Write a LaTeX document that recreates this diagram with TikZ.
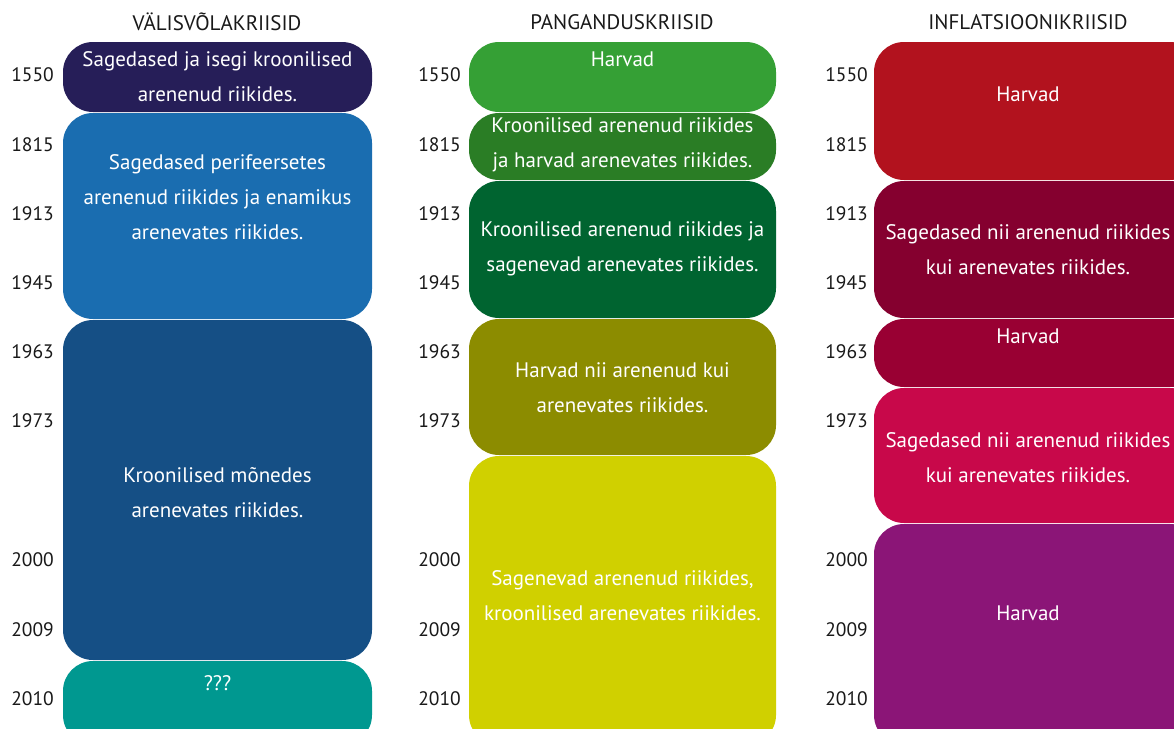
\documentclass[tikz,border=0pt]{standalone}
\usepackage{fontspec}
\setmainfont{PT Sans}
\definecolor{ca1}{HTML}{261E58}
\definecolor{ca2}{HTML}{1A6DB0}
\definecolor{ca3}{HTML}{154F85}
\definecolor{ca4}{HTML}{009890}
\definecolor{cb1}{HTML}{35A035}
\definecolor{cb2}{HTML}{2A7D25}
\definecolor{cb3}{HTML}{006430}
\definecolor{cb4}{HTML}{8C8C00}
\definecolor{cb5}{HTML}{D0D000}
\definecolor{cc1}{HTML}{B2121E}
\definecolor{cc2}{HTML}{85002F}
\definecolor{cc3}{HTML}{990033}
\definecolor{cc4}{HTML}{C8084A}
\definecolor{cc5}{HTML}{8B1577}
\tikzset{
  band/.style={rounded corners=30pt},
  inner/.style={text=white, align=center, font=\fontsize{21}{35}\selectfont, inner sep=0pt},
  yearlbl/.style={text=black!90, anchor=east, font=\fontsize{19.5}{22}\selectfont, inner sep=0pt},
  head/.style={text=black!90, font=\fontsize{21}{24}\selectfont, inner sep=0pt}
}
\begin{document}
\begin{tikzpicture}[x=1pt,y=-1pt]
\useasboundingbox (0,0) rectangle (1174,728);
\clip (0,0) rectangle (1174,728);
\fill[white] (0,0) rectangle (1174,728);
% headers
\node[head] (h1) at (217,22) {VÄLISVÕLAKRIISID};
\node[head] (h2) at (622,22) {PANGANDUSKRIISID};
\node[head] (h3) at (1028,22) {INFLATSIOONIKRIISID};
% years
\foreach \yr/\yy [count=\i] in {1550/75,1815/145,1913/214,1945/283,1963/352,1973/421,2000/560,2009/630,2010/699}{
  \node[yearlbl] (ya\i) at (54,\yy) {\yr};
  \node[yearlbl] (yb\i) at (461,\yy) {\yr};
  \node[yearlbl] (yc\i) at (868,\yy) {\yr};
}
% column 1
\fill[ca1, band] (63,42) rectangle (372,112);
\fill[ca2, band] (63,113) rectangle (372,319);
\fill[ca3, band] (63,320) rectangle (372,660);
\fill[ca4, band] (63,661) rectangle (372,745);
\node[inner] (ta1) at (217.5,76.5) {Sagedased ja isegi kroonilised\\arenenud riikides.};
\node[inner] (ta2) at (217.5,197) {Sagedased perifeersetes\\arenenud riikides ja enamikus\\arenevates riikides.};
\node[inner] (ta3) at (217.5,492.5) {Kroonilised mõnedes\\arenevates riikides.};
\node[inner] (ta4) at (217.5,683) {???};
% column 2
\fill[cb1, band] (469,42) rectangle (776,112);
\fill[cb2, band] (469,113) rectangle (776,180);
\fill[cb3, band] (469,181) rectangle (776,318);
\fill[cb4, band] (469,319) rectangle (776,455);
\fill[cb5, band] (469,456) rectangle (776,745);
\node[inner] (tb1) at (622.5,59) {Harvad};
\node[inner] (tb2) at (622.5,145) {Kroonilised arenenud riikides\\ja harvad arenevates riikides.};
\node[inner] (tb3) at (622.5,249) {Kroonilised arenenud riikides ja\\sagenevad arenevates riikides.};
\node[inner] (tb4) at (622.5,387.5) {Harvad nii arenenud kui\\arenevates riikides.};
\node[inner] (tb5) at (622.5,596) {Sagenevad arenenud riikides,\\kroonilised arenevates riikides.};
% column 3
\fill[cc1, band] (874,42) rectangle (1200,180);
\fill[cc2, band] (874,181) rectangle (1200,318);
\fill[cc3, band] (874,319) rectangle (1200,387);
\fill[cc4, band] (874,388) rectangle (1200,523);
\fill[cc5, band] (874,524) rectangle (1200,745);
\node[inner] (tc1) at (1028,94) {Harvad};
\node[inner] (tc2) at (1028,249.5) {Sagedased nii arenenud riikides\\kui arenevates riikides.};
\node[inner] (tc3) at (1028,336) {Harvad};
\node[inner] (tc4) at (1028,457.5) {Sagedased nii arenenud riikides\\kui arenevates riikides.};
\node[inner] (tc5) at (1028,613) {Harvad};
\end{tikzpicture}
\end{document}
